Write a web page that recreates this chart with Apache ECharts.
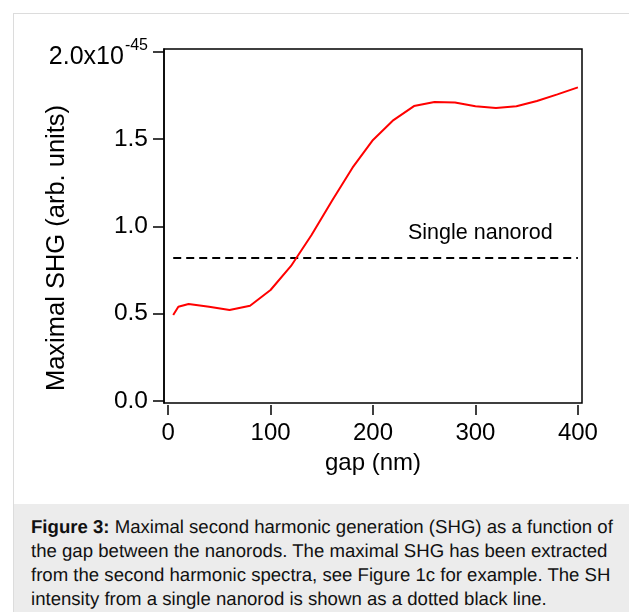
<!DOCTYPE html>
<html>
<head>
<meta charset="utf-8">
<script src="https://cdn.jsdelivr.net/npm/echarts@6/dist/echarts.min.js"></script>
<style>
  html, body { margin: 0; padding: 0; background: #fff; width: 629px; height: 612px; overflow: hidden; }
  #frame { position: absolute; left: 13px; top: 13px; width: 640px; height: 620px; border-left: 1px solid #dcdcdc; border-top: 1px solid #dcdcdc; }
  #chart { position: absolute; left: 0; top: 0; width: 629px; height: 504px; }
  #caption { position: absolute; left: 14px; top: 504px; width: 615px; height: 108px; background: #ececec;
    font-family: "Liberation Sans", Arial, sans-serif; font-size: 18.6px; line-height: 24px; color: #111;
    text-rendering: geometricPrecision; }
  #caption div { position: absolute; left: 17px; top: 11px; white-space: nowrap; }
</style>
</head>
<body>
<div id="frame"></div>
<div id="chart"></div>
<div id="caption"><div><b>Figure 3:</b> Maximal second harmonic generation (SHG) as a function of<br>the gap between the nanorods. The maximal SHG has been extracted<br>from the second harmonic spectra, see Figure 1c for example. The SH<br>intensity from a single nanorod is shown as a dotted black line.</div></div>
<script>
// Data
const gapNm = [5, 10, 20, 40, 60, 80, 100, 120, 140, 160, 180, 200, 220, 240, 260, 280, 300, 320, 340, 360, 380, 400];
const maxSHG = [0.493, 0.54, 0.556, 0.54, 0.521, 0.546, 0.636, 0.774, 0.951, 1.148, 1.337, 1.496, 1.61, 1.69, 1.714, 1.71, 1.689, 1.679, 1.689, 1.719, 1.757, 1.797];
const singleGap = [5, 400];
const singleLevel = [0.82, 0.82];
const xTicks = [0, 100, 200, 300, 400];
const yTicks = [0, 0.5, 1.0, 1.5, 2.0];
const singleLabel = 'Single nanorod';

const font = '"Liberation Sans", Arial, Helvetica, sans-serif';
const chart = echarts.init(document.getElementById('chart'), null, { renderer: 'canvas' });

chart.setOption({
  animation: false,
  backgroundColor: 'transparent',
  textStyle: { fontFamily: font },
  grid: {
    left: 164, top: 49, width: 418, height: 354,
    show: true, borderColor: '#000', borderWidth: 1.5, backgroundColor: 'transparent'
  },
  xAxis: {
    type: 'value', min: -4, max: 404, offset: 2,
    name: 'gap (nm)', nameLocation: 'middle', nameGap: 46, nameMoveOverlap: false,
    nameTextStyle: { fontSize: 24, color: '#000', fontFamily: font },
    axisLine: { show: false, onZero: false },
    axisTick: { show: true, length: 10, customValues: xTicks, lineStyle: { color: '#000', width: 1.5 } },
    axisLabel: { customValues: xTicks, fontSize: 24, color: '#000', margin: 16, fontFamily: font },
    splitLine: { show: false }
  },
  yAxis: {
    type: 'value', min: -0.0115, max: 2.0172,
    name: 'Maximal SHG (arb. units)', nameLocation: 'middle', nameGap: 94, nameMoveOverlap: false,
    nameTextStyle: { fontSize: 25.5, color: '#000', fontFamily: font, padding: [0, 44, 0, 0] },
    axisLine: { show: true, onZero: false, lineStyle: { color: '#000', width: 1.5 } },
    axisTick: { show: true, length: 11, customValues: yTicks, lineStyle: { color: '#000', width: 1.5 } },
    axisLabel: {
      customValues: yTicks, fontSize: 24.5, color: '#000', margin: 16, fontFamily: font,
      formatter: function (v) {
        if (Math.abs(v - 2) < 1e-9) return '{a|2.0x10}{s|-45}';
        return v.toFixed(1);
      },
      rich: {
        a: { fontSize: 25, color: '#000', fontFamily: font, padding: [10, 0, 0, 0] },
        s: { fontSize: 16, color: '#000', fontFamily: font, padding: [0, 0, 13, 1] }
      }
    },
    splitLine: { show: false }
  },
  series: [
    {
      type: 'line', data: gapNm.map((g, i) => [g, maxSHG[i]]),
      showSymbol: false, lineStyle: { color: '#ff0000', width: 2 }, z: 3
    },
    {
      type: 'line', data: singleGap.map((g, i) => [g, singleLevel[i]]),
      showSymbol: false, lineStyle: { color: '#000', width: 2, type: [8, 5] }, z: 2
    }
  ],
  graphic: [
    { type: 'text', left: 408, top: 222, style: { text: singleLabel, fontSize: 21.5, fill: '#000', fontFamily: font } }
  ]
});
</script>
</body>
</html>
